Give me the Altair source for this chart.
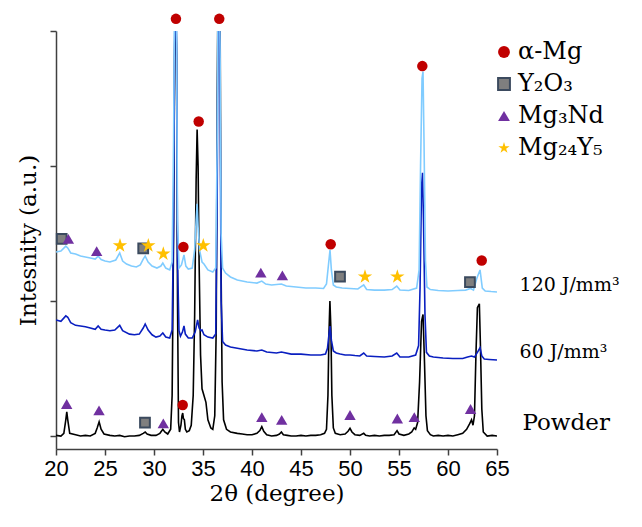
import altair as alt
import pandas as pd

# ---------------- data ----------------
powder_x = [20.0, 20.5, 20.8, 21.0, 21.1, 21.2, 21.4, 22.0, 22.5, 23.0, 23.5, 24.0, 24.2, 24.4, 24.6, 24.9,
            25.5, 26.0, 26.5, 27.0, 27.5, 28.0, 28.5, 28.9, 29.1, 29.3, 29.7, 30.2, 30.6, 30.9, 31.1, 31.4,
            31.7, 31.85, 32.0, 32.1, 32.2, 32.3, 32.4, 32.5, 32.6, 32.75, 32.85, 32.93, 33.0, 33.1, 33.2,
            33.35, 33.6, 33.8, 34.0, 34.15, 34.3, 34.4, 34.5, 34.6, 34.75, 34.9, 35.1, 35.3, 35.5, 35.8,
            36.0, 36.2, 36.35, 36.45, 36.55, 36.65, 36.75, 36.85, 36.95, 37.1, 37.4, 37.8, 38.5, 39.0,
            39.5, 40.0, 40.5, 40.8, 41.0, 41.2, 41.5, 42.0, 42.5, 42.8, 43.0, 43.2, 43.6, 44.0, 44.5, 45.0,
            45.5, 46.0, 46.5, 47.0, 47.4, 47.6, 47.75, 47.85, 47.95, 48.05, 48.15, 48.3, 48.5, 49.0, 49.5,
            49.8, 50.0, 50.2, 50.5, 51.0, 51.4, 51.6, 52.0, 52.5, 53.0, 53.5, 54.0, 54.5, 54.8, 55.0, 55.5,
            56.0, 56.3, 56.55, 56.7, 56.9, 57.1, 57.3, 57.45, 57.6, 57.75, 57.9, 58.2, 58.5, 59.0, 59.5,
            60.0, 60.5, 61.0, 61.5, 61.9, 62.2, 62.4, 62.55, 62.7, 62.85, 63.0, 63.2, 63.3, 63.45, 63.6,
            64.0, 64.5, 65.0]
powder_y = [0.005, 0.0, 0.02, 0.12, 0.18, 0.12, 0.02, 0.01, 0.0, 0.005, 0.0, 0.02, 0.06, 0.105, 0.05, 0.015,
            0.005, 0.0, 0.005, -0.005, 0.0, 0.0, 0.005, 0.02, 0.03, 0.015, 0.005, 0.005, 0.02, 0.05, 0.03, 0.015,
            0.05, 0.3, 1.5, 2.8, 3.4, 2.8, 1.0, 0.1, 0.03, 0.08, 0.15, 0.17, 0.13, 0.12, 0.05,
            0.03, 0.04, 0.08, 0.3, 0.9, 1.9, 2.27, 2.0, 1.3, 0.6, 0.35, 0.3, 0.25, 0.12, 0.06,
            0.05, 0.15, 0.8, 2.5, 3.5, 3.6, 3.0, 1.2, 0.4, 0.12, 0.05, 0.03, 0.02, 0.015,
            0.01, 0.01, 0.02, 0.04, 0.07, 0.035, 0.01, 0.0, 0.005, 0.015, 0.03, 0.01, 0.005, 0.0, 0.0, 0.005,
            0.0, 0.005, 0.005, 0.01, 0.02, 0.05, 0.3, 0.75, 1.0, 0.8, 0.3, 0.06, 0.02, 0.01, 0.015,
            0.035, 0.057, 0.03, 0.01, 0.005, 0.02, 0.005, 0.0, 0.005, 0.0, 0.005, 0.005, 0.01, 0.04, 0.015, 0.005,
            0.015, 0.03, 0.06, 0.05, 0.1, 0.4, 0.85, 0.9, 0.55, 0.15, 0.04, 0.01, 0.0, 0.005, 0.0,
            0.005, 0.0, 0.01, 0.02, 0.05, 0.09, 0.12, 0.08, 0.15, 0.6, 0.95, 0.98, 0.7, 0.2, 0.03,
            0.0, 0.005, 0.0]

j60_x = [20.0, 20.5, 21.0, 21.2, 21.5, 22.0, 22.5, 23.0, 23.5, 24.0, 24.3, 24.6, 25.0, 25.5, 26.0, 26.5,
         26.8, 27.5, 28.0, 28.5, 28.9, 29.1, 29.4, 29.8, 30.2, 30.6, 30.9, 31.2, 31.6, 31.85, 32.0, 32.1,
         32.2, 32.3, 32.4, 32.55, 32.7, 32.9, 33.06, 33.2, 33.5, 33.9, 34.2, 34.45, 34.6, 34.8, 34.9, 35.1,
         35.5, 36.0, 36.3, 36.45, 36.55, 36.65, 36.75, 36.85, 37.0, 37.3, 37.8, 38.5, 39.5, 40.5, 41.0,
         41.5, 42.5, 43.0, 44.0, 45.0, 46.0, 47.0, 47.5, 47.7, 47.85, 47.96, 48.1, 48.3, 48.6, 49.0, 49.5,
         50.0, 50.5, 51.0, 51.4, 51.7, 52.5, 53.5, 54.3, 54.77, 55.1, 56.0, 56.7, 57.0, 57.15, 57.3, 57.4,
         57.5, 57.65, 57.8, 58.1, 58.5, 59.5, 60.5, 61.5, 62.0, 62.4, 62.7, 63.0, 63.27, 63.45, 63.7, 64.2,
         65.0]
j60_y = [0.86, 0.85, 0.89, 0.88, 0.84, 0.82, 0.815, 0.81, 0.80, 0.79, 0.815, 0.79, 0.785, 0.78, 0.785, 0.82,
         0.78, 0.755, 0.75, 0.755, 0.80, 0.83, 0.785, 0.75, 0.733, 0.74, 0.763, 0.733, 0.726, 0.785, 1.6, 2.9,
         3.5, 2.9, 1.3, 0.78, 0.74, 0.77, 0.815, 0.755, 0.726, 0.726, 0.77, 0.86, 0.80, 0.78, 0.785, 0.75,
         0.733, 0.726, 0.755, 1.8, 3.4, 3.5, 2.5, 1.0, 0.70, 0.674, 0.66, 0.65, 0.637, 0.63, 0.637,
         0.622, 0.615, 0.622, 0.607, 0.607, 0.60, 0.60, 0.607, 0.65, 0.75, 0.815, 0.71, 0.63, 0.615, 0.607, 0.60,
         0.60, 0.596, 0.593, 0.615, 0.593, 0.589, 0.585, 0.593, 0.615, 0.585, 0.585, 0.60, 0.67, 1.1, 1.85, 1.95,
         1.6, 0.9, 0.62, 0.593, 0.585, 0.578, 0.574, 0.574, 0.585, 0.593, 0.585, 0.62, 0.654, 0.593, 0.57, 0.567,
         0.563]

j120_x = [20.0, 20.5, 21.0, 21.2, 21.5, 22.0, 22.5, 23.0, 23.5, 24.0, 24.3, 24.6, 25.0, 25.5, 26.1, 26.5,
          26.8, 27.2, 27.7, 28.2, 28.6, 28.9, 29.1, 29.4, 29.8, 30.3, 30.7, 30.9, 31.2, 31.6, 31.85, 32.0,
          32.1, 32.2, 32.3, 32.4, 32.55, 32.8, 33.06, 33.25, 33.5, 33.9, 34.15, 34.3, 34.4, 34.5, 34.65,
          34.9, 35.1, 35.5, 36.0, 36.3, 36.45, 36.55, 36.65, 36.75, 36.85, 37.0, 37.3, 37.8, 38.5, 39.5,
          40.5, 41.0, 41.4, 42.0, 43.0, 43.5, 44.5, 45.5, 46.5, 47.3, 47.6, 47.8, 47.96, 48.1, 48.3, 48.6,
          49.2, 50.0, 50.8, 51.4, 51.7, 52.5, 53.5, 54.3, 54.77, 55.1, 56.0, 56.8, 57.05, 57.2, 57.35, 57.45,
          57.55, 57.7, 57.85, 58.2, 59.0, 60.0, 61.0, 61.8, 62.3, 62.6, 62.95, 63.27, 63.5, 63.8, 64.4, 65.0]
j120_y = [1.363, 1.37, 1.407, 1.393, 1.356, 1.348, 1.333, 1.326, 1.319, 1.311, 1.333, 1.307, 1.296, 1.289, 1.304, 1.356,
          1.296, 1.274, 1.259, 1.252, 1.267, 1.311, 1.333, 1.289, 1.259, 1.244, 1.259, 1.281, 1.244, 1.23, 1.289, 2.2,
          3.2, 3.6, 3.0, 1.6, 1.244, 1.267, 1.341, 1.259, 1.237, 1.244, 1.38, 1.6, 1.72, 1.55, 1.378,
          1.289, 1.274, 1.23, 1.215, 1.244, 2.2, 3.5, 3.6, 2.8, 1.5, 1.244, 1.207, 1.178, 1.156, 1.141,
          1.133, 1.148, 1.126, 1.119, 1.126, 1.111, 1.104, 1.096, 1.096, 1.093, 1.126, 1.267, 1.378, 1.23, 1.119, 1.104,
          1.096, 1.093, 1.089, 1.119, 1.085, 1.081, 1.081, 1.085, 1.111, 1.081, 1.078, 1.096, 1.23, 2.0, 2.65, 2.7,
          2.2, 1.3, 1.104, 1.085, 1.078, 1.074, 1.078, 1.081, 1.093, 1.081, 1.17, 1.23, 1.096, 1.074, 1.07, 1.067]

phases = ["α-Mg", "Y₂O₃", "Mg₃Nd", "Mg₂₄Y₅"]
phase_fill = ["#c00000", "#7f7f7f", "#7030a0", "#ffc000"]
phase_stroke = ["transparent", "#3b4a5e", "transparent", "transparent"]
star = "M0,-1L0.2245,-0.309L0.951,-0.309L0.363,0.118L0.588,0.809L0,0.382L-0.588,0.809L-0.363,0.118L-0.951,-0.309L-0.2245,-0.309Z"
phase_shape = ["circle", "square", "triangle-up", star]
phase_size = [110, 95, 130, 230]

alpha_mg_x = [32.24, 36.66, 34.56, 33.0, 48.03, 57.38, 63.44, 32.93]
alpha_mg_y = [3.09, 3.09, 2.33, 1.40, 1.42, 2.74, 1.30, 0.23]
y2o3_x = [20.58, 28.9, 48.98, 62.24, 29.08]
y2o3_y = [1.46, 1.39, 1.18, 1.14, 0.10]
mg3nd_x = [21.26, 24.15, 40.9, 43.1, 21.09, 24.39, 30.95, 41.0, 43.03, 50.0, 54.83, 56.56, 62.3]
mg3nd_y = [1.46, 1.37, 1.21, 1.19, 0.237, 0.19, 0.094, 0.14, 0.12, 0.156, 0.13, 0.14, 0.20]
mg24y5_x = [26.53, 29.42, 30.95, 35.03, 51.53, 54.83]
mg24y5_y = [1.41, 1.41, 1.35, 1.41, 1.18, 1.18]

energy_labels = ["120 J/mm³", "60 J/mm³"]
energy_label_x = [67.3, 67.3]
energy_label_y = [1.12, 0.62]
powder_label = ["Powder"]
powder_label_x = [67.6]
powder_label_y = [0.10]

x_ticks = [20, 25, 30, 35, 40, 45, 50, 55, 60, 65]
y_ticks = [0, 1, 2, 3]

# ---------------- chart ----------------
SERIF = "DejaVu Serif"
SANS = "Liberation Sans"

x_scale = alt.Scale(domain=[20, 65], nice=False, zero=False)
y_scale = alt.Scale(domain=[-0.096, 3.0], nice=False, zero=False)

x_axis = alt.Axis(values=x_ticks, grid=False, labelFont=SANS, labelFontSize=22, labelColor="black",
                  labelPadding=3, tickSize=6, tickColor="#404040", domainColor="#404040",
                  domainWidth=1.5, tickWidth=1.5, titleFont=SERIF, titleFontSize=23,
                  titleFontWeight="normal", titleColor="black", titlePadding=3, labelFlush=False)
y_axis = alt.Axis(values=y_ticks, grid=False, labels=False, tickSize=6, tickColor="#404040",
                  domainColor="#404040", domainWidth=1.5, tickWidth=1.5, titleFont=SERIF,
                  titleFontSize=23, titleFontWeight="normal", titleColor="black", titlePadding=9)


def curve(xs, ys, color):
    df = pd.DataFrame({"two_theta": xs, "intensity": ys})
    return alt.Chart(df).mark_line(color=color, strokeWidth=1.6, clip=True).encode(
        x=alt.X("two_theta:Q", scale=x_scale, axis=x_axis, title="2θ (degree)"),
        y=alt.Y("intensity:Q", scale=y_scale, axis=y_axis, title="Intesnity (a.u.)"),
    )


rows = []
for name, xs, ys in [(phases[0], alpha_mg_x, alpha_mg_y), (phases[1], y2o3_x, y2o3_y),
                     (phases[2], mg3nd_x, mg3nd_y), (phases[3], mg24y5_x, mg24y5_y)]:
    for a, b in zip(xs, ys):
        rows.append({"phase": name, "two_theta": a, "intensity": b,
                     "sz": phase_size[phases.index(name)]})
markers_df = pd.DataFrame(rows)

legend = alt.Legend(orient="none", legendX=436, legendY=9, title=None, labelFont=SERIF,
                    labelFontSize=24, labelColor="black", rowPadding=8, labelOffset=2,
                    padding=0, symbolSize=140, symbolStrokeWidth=2, symbolOpacity=1)

markers = alt.Chart(markers_df).mark_point(filled=True, opacity=1, strokeWidth=2).encode(
    x=alt.X("two_theta:Q", scale=x_scale),
    y=alt.Y("intensity:Q", scale=y_scale),
    fill=alt.Fill("phase:N", scale=alt.Scale(domain=phases, range=phase_fill), legend=legend),
    stroke=alt.Stroke("phase:N", scale=alt.Scale(domain=phases, range=phase_stroke), legend=legend),
    shape=alt.Shape("phase:N", scale=alt.Scale(domain=phases, range=phase_shape), legend=legend),
    size=alt.Size("sz:Q", scale=None),
)

energy_df = pd.DataFrame({"label": energy_labels, "two_theta": energy_label_x, "intensity": energy_label_y})
energy_text = alt.Chart(energy_df).mark_text(align="left", baseline="middle", font=SERIF, fontSize=19,
                                             color="black").encode(
    x=alt.X("two_theta:Q", scale=x_scale),
    y=alt.Y("intensity:Q", scale=y_scale),
    text="label:N",
)
powder_df = pd.DataFrame({"label": powder_label, "two_theta": powder_label_x, "intensity": powder_label_y})
powder_text = alt.Chart(powder_df).mark_text(align="left", baseline="middle", font=SERIF, fontSize=23,
                                             color="black").encode(
    x=alt.X("two_theta:Q", scale=x_scale),
    y=alt.Y("intensity:Q", scale=y_scale),
    text="label:N",
)

chart = alt.layer(
    curve(powder_x, powder_y, "#000000"),
    curve(j60_x, j60_y, "#0a1fc0"),
    curve(j120_x, j120_y, "#80ccff"),
    markers,
    energy_text,
    powder_text,
).properties(
    width=441, height=418,
    autosize=alt.AutoSizeParams(type="none"),
    padding={"left": 48, "top": 23, "right": 137, "bottom": 70},
    background="white",
).configure_view(stroke=None)

chart.save("out.html", embed_options={"renderer": "svg", "actions": False})
